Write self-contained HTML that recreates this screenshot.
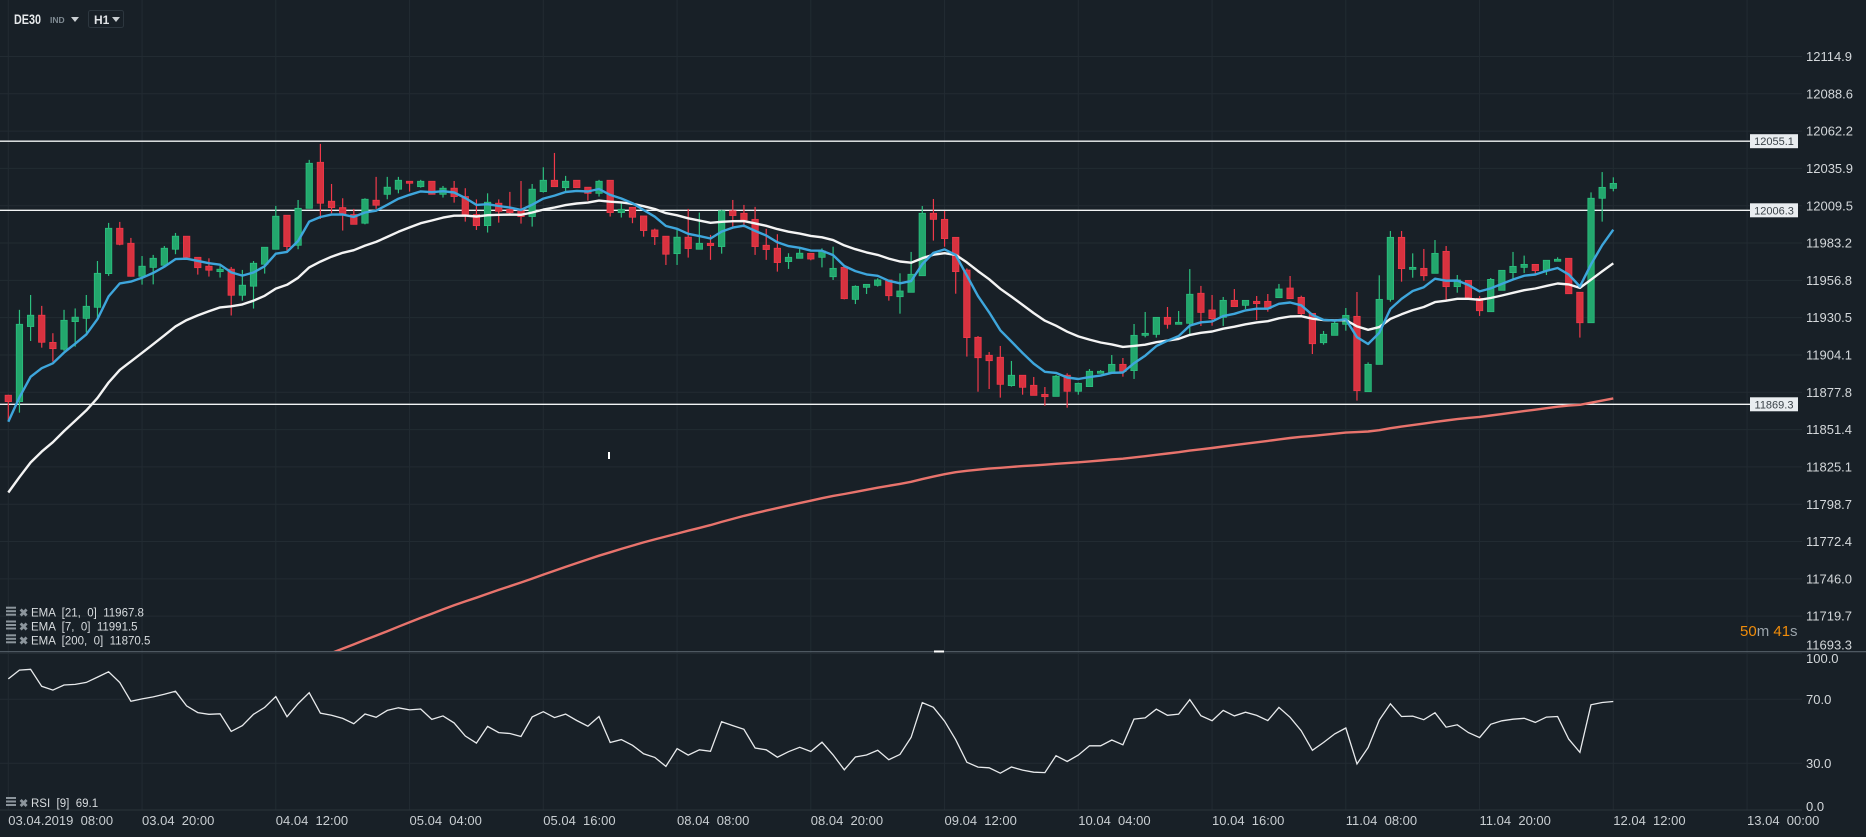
<!DOCTYPE html>
<html><head><meta charset="utf-8"><style>
html,body{margin:0;padding:0;background:#182027;}
svg{display:block;font-family:"Liberation Sans",sans-serif;}
</style></head><body>
<svg id="chart" width="1866" height="837" viewBox="0 0 1866 837" xmlns="http://www.w3.org/2000/svg">
<rect x="0" y="0" width="1866" height="837" fill="#182027"/>
<defs><clipPath id="pclip"><rect x="0" y="0" width="1800" height="651"/></clipPath><clipPath id="rclip"><rect x="0" y="652" width="1800" height="160"/></clipPath></defs>
<g id="grid"></g>
<g id="levels"></g>
<g id="candles" clip-path="url(#pclip)"></g>
<g id="emas" clip-path="url(#pclip)"></g>
<g id="rsi" clip-path="url(#rclip)"></g>
<g id="axes"></g>
<line x1="0" y1="651.7" x2="1866" y2="651.7" stroke="#56616a" stroke-width="1.2"/>
<rect x="608" y="452" width="2" height="7" fill="#ffffff"/>
<rect x="934" y="650.5" width="10" height="2" fill="#ffffff"/>
<g>
<text x="14" y="24" font-size="14" font-weight="bold" fill="#e6e9eb" textLength="27" lengthAdjust="spacingAndGlyphs">DE30</text>
<text x="50" y="23" font-size="8.5" font-weight="bold" fill="#7f8a92">IND</text>
<path d="M71 17 L79 17 L75 22 Z" fill="#c9ced2"/>
<rect x="88.5" y="10.5" width="35" height="17" rx="2" fill="none" stroke="#2c363e"/>
<text x="94" y="24" font-size="12" font-weight="bold" fill="#e0e3e6">H1</text>
<path d="M112 17 L120 17 L116 22 Z" fill="#c9ced2"/>
</g>
<g id="legend"></g>
<g font-size="15">
<text x="1740" y="636"><tspan fill="#f08c0a">50</tspan><tspan fill="#9aa3aa">m </tspan><tspan fill="#f08c0a">41</tspan><tspan fill="#9aa3aa">s</tspan></text>
</g>
</svg>
<script>
const opens=[11875.7,11871.2,11924.2,11932.2,11913,11908.2,11927.7,11930,11937.8,11961.6,11993.6,11983,11959.7,11966,11967.5,11978.8,11988,11973.1,11966.8,11963,11964.7,11946.3,11952.7,11968.2,11978.8,12002.8,11981.6,12007.7,12040.2,12012.7,12008.2,12003.3,11997.2,12013.4,12017.6,12021.2,12026.8,12023,12026.8,12017.6,12021.9,12016,12003.3,11995.5,12011.3,12007,12005.9,12001.9,12019.5,12027.5,12022.3,12027.5,12022.6,12018.3,12027.5,12004.7,12008.4,12002.3,11992.4,11988,11975.7,11987.3,11978.8,11983,11980.7,12005.9,12004.2,11999.9,11981.6,11979.5,11970.1,11972.4,11975.9,11973.1,11959.4,11966,11943.4,11951.9,11953.3,11957.1,11945.3,11948.4,11960.1,12004.2,11999.9,11987.2,11964.1,11916.6,11903.9,11902.5,11882.5,11889.8,11882.7,11876.3,11874.9,11889.8,11878.5,11881.8,11891.2,11891.9,11897.5,11893.1,11918,11918.7,11930.7,11925.8,11926.5,11947.7,11935.9,11930.7,11942.7,11939.2,11942,11942,11944.6,11951.4,11944.8,11933.5,11912.8,11918,11925.8,11931.4,11878.2,11897.5,11943.4,11987.2,11964.6,11965.3,11961.8,11977.3,11952.4,11956.8,11944.1,11934.7,11949.8,11962.3,11966,11968.1,11963.7,11970.3,11972.4,11948.4,11926.9,12014.8,12021.8];
const highs=[11876,11936,11946.5,11938.8,11919.5,11936,11937,11946.5,11970.5,11997.4,11998.1,11986.8,11974,11974.8,11981.1,11990.3,11988,11973.1,11972.4,11967,11966.3,11964.2,11970.5,11980.2,12009.4,12002.8,12013.6,12041.9,12053.2,12024.9,12014.8,12007.3,12014.8,12029.9,12029.9,12029.9,12026.8,12027.8,12026.8,12023.5,12027,12021.9,12014,12018.3,12014,12019.3,12027,12024.9,12036.7,12046.8,12030.6,12027.5,12022.6,12027.8,12027.5,12011.3,12008.4,12002.3,11993.4,11988,11992.9,12007.3,12004.7,11988.9,12006.6,12013.6,12010.1,12008.7,11993.2,11989.4,11976,11979.5,11975.9,11979.4,11980.6,11966,11953.3,11954,11958.3,11957.1,11961.8,11976.9,12009.3,12014.3,12005.8,11987.2,11965.3,11917.5,11906.2,11910.5,11899.9,11889.8,11888.6,11881.5,11890,11891.2,11884.6,11894.2,11893.5,11904.1,11902,11926,11934.5,11930.7,11938,11935.2,11964.8,11952.9,11946.5,11945.1,11950.7,11942.7,11945.8,11947.2,11954.3,11959.9,11946,11933.5,11921.1,11927.9,11937.3,11948.6,11898.9,11960.4,11991.7,11991.7,11975.9,11979,11985.3,11981.1,11960.6,11956.8,11945.8,11958.5,11963.9,11976.9,11974.3,11968.1,11971,11973.1,11972.4,11948.4,12019,12033.3,12029.6];
const lows=[11858,11863.4,11914,11909.3,11899.5,11907,11910,11920,11929,11960,11981.6,11959.5,11953.8,11954,11967,11975.3,11972.4,11960.9,11959.5,11958.8,11932,11942.5,11936.9,11961.6,11978.8,11977.8,11978.8,12007.7,12000.2,12004.2,11992,11996.4,11996.4,12007.3,12014.1,12018.3,12019.5,12022.3,12017.6,12015.3,12011.7,11998.3,11992.4,11990.6,11997.6,12003,11996.9,11994.8,12018.8,12023,12019.5,12022.3,12013.2,12016,12001.9,12001.2,11997.2,11987.7,11981.8,11967.7,11967.7,11972.9,11978.8,11971.3,11975.7,11994.3,11994.3,11974.8,11971.3,11963,11964.9,11972.4,11971,11966,11957.1,11943.4,11940.1,11947.2,11952.4,11942.5,11933.3,11948.4,11960.1,11984.9,11980.6,11947.4,11903,11878.2,11880.1,11874,11881.8,11876.1,11875.6,11868.3,11874.9,11866.9,11876.1,11881.8,11891.2,11891.9,11888.8,11887.2,11916.6,11916.4,11922.7,11925.8,11919,11924.6,11924.8,11924.6,11938.3,11936.6,11928.8,11934.7,11944.6,11943.9,11931.7,11904.8,11911.4,11918,11921.3,11871.9,11878.2,11897.5,11941.8,11955.9,11958.7,11956.6,11961.8,11943,11948.1,11944.1,11931.7,11934.7,11949.8,11958,11962,11961.1,11960.6,11970.3,11947.4,11916.4,11926.9,11998.3,12019.7];
const closes=[11871.2,11925.8,11932.2,11913.1,11908.6,11928.6,11930.8,11938.5,11961.8,11993.6,11982.3,11959.7,11966.8,11972.4,11979.5,11988,11973.1,11965.8,11964,11964.7,11946.3,11953.4,11968.9,11980.2,12002.1,11980.7,12007.7,12039.5,12011.3,12008.2,12003.7,11996.4,12014.1,12009.9,12022.6,12027.5,12025.4,12026.8,12017.6,12021.9,12016,12003.3,11995.5,12012,12005.6,12004.7,12001.9,12021.2,12027.5,12023,12026.8,12022.3,12018.3,12026.8,12004.7,12007,12001.4,11992,11987.7,11975.3,11987.3,11979.3,11983,11981.4,12005.9,12002.6,11999.5,11980.7,11978.6,11969.4,11973.1,11976,11971.9,11977.6,11965.3,11943.9,11952.6,11954,11957.1,11946,11949.3,11961.1,12004.2,11999.9,11986.3,11963,11916.4,11902.2,11900.1,11883.4,11889.8,11881.3,11875.6,11874.7,11889.1,11878.5,11884.1,11892.6,11892.6,11897.5,11892.4,11918,11919.4,11930.7,11925.8,11927.2,11947,11934.2,11929.8,11942.7,11938.3,11942.7,11940.4,11936.8,11950.7,11943.9,11933.3,11912.1,11918.7,11926.5,11932.1,11878.9,11897.5,11943.4,11987.2,11965.1,11966,11960.1,11975.9,11952.4,11957.1,11944.1,11935.4,11957.5,11963.9,11966.7,11968.1,11963.7,11971,11971.7,11947.4,11926.9,12014.8,12022.5,12025.3];
const priceTicks=[12114.9,12088.6,12062.2,12035.9,12009.5,11983.2,11956.8,11930.5,11904.1,11877.8,11851.4,11825.1,11798.7,11772.4,11746.0,11719.7,11693.3];
const levelValues=[12055.1,12006.3,11869.3];
const rsiTicks=[100,70,30,0];
const timeLabels=["03.04.2019  08:00","03.04  20:00","04.04  12:00","05.04  04:00","05.04  16:00","08.04  08:00","08.04  20:00","09.04  12:00","10.04  04:00","10.04  16:00","11.04  08:00","11.04  20:00","12.04  12:00","13.04  00:00"];
const emaPeriods=[21,7,200];
const emaSeeds=[11807,11857,11601];
const emaLegendValues=["11967.8","11991.5","11870.5"];
const rsiPeriod=9;
const rsiSeedGain=12;
const rsiSeedLoss=2.5;
const rsiLegendValue="69.1";

const NS="http://www.w3.org/2000/svg";
function mk(tag,attrs,parent){const e=document.createElementNS(NS,tag);for(const k in attrs)e.setAttribute(k,attrs[k]);parent.appendChild(e);return e;}
const yP=p=>210.3+(12006.3-p)*1.416;
const yR=r=>811.3-r*1.6;
const xI=i=>8.3+i*11.146;
const xL=k=>8.3+k*133.75;
const grid=document.getElementById('grid'),axes=document.getElementById('axes');
timeLabels.forEach((t,k)=>{
  const l=mk('line',{x1:xL(k),y1:0,x2:xL(k),y2:810,stroke:'#222b32','stroke-width':1},grid);
  
  
  const tx=mk('text',{x:xL(k),y:825,'font-size':13,fill:'#c9ced2'},axes);
  tx.setAttribute('style','white-space:pre');
  tx.textContent=t;
  
  
});
priceTicks.forEach(p=>{
  const y=yP(p);
  const l=mk('line',{x1:0,y1:y,x2:1802,y2:y,stroke:'#222b32','stroke-width':1},grid);
  
  
  const tx=mk('text',{x:1806,y:Math.min(y,645)+4.5,'font-size':13,fill:'#d3d7da'},axes);
  tx.textContent=p.toFixed(1);
  
  
});
rsiTicks.forEach(r=>{
  const y=yR(r);
  if(r>0&&r<100){const l=mk('line',{x1:0,y1:y,x2:1802,y2:y,stroke:'#222b32','stroke-width':1},grid);
  
  }
  const ty=r===100?663:(r===0?811:y+4.5);
  const tx=mk('text',{x:1806,y:ty,'font-size':13,fill:'#d3d7da'},axes);
  tx.textContent=r.toFixed(1);
  
  
});
const bl=mk('line',{x1:0,y1:810,x2:1802,y2:810,stroke:'#2a333a','stroke-width':1},grid);


const lv=document.getElementById('levels');
levelValues.forEach(v=>{
  const y=yP(v);
  const l=mk('line',{x1:0,y1:y,x2:1750,y2:y,stroke:'#f2f4f5','stroke-width':1.4},lv);
  
  
  const r=mk('rect',{x:1750,y:y-7,width:48,height:14,fill:'#e9edf0'},lv);
  
  
  const t=mk('text',{x:1774,y:y+4,'font-size':11,fill:'#3a4248','text-anchor':'middle'},lv);
  t.textContent=v.toFixed(1);
  
  
});
const cg=document.getElementById('candles');
closes.forEach((c,i)=>{
  const o=opens[i],up=c>=o,col=up?'#23a76d':'#d8323f',st=up?'#2cc07f':'#f0394a',x=xI(i);
  const w=mk('line',{x1:x,y1:yP(highs[i]),x2:x,y2:yP(lows[i]),stroke:st,'stroke-width':1.2},cg);
  
  
  const top=yP(Math.max(o,c)),h=Math.max(1.5,yP(Math.min(o,c))-top);
  const b=mk('rect',{x:x-3.2,y:top,width:6.4,height:h,fill:col,stroke:st,'stroke-width':0.8},cg);
  
  
});
const eg=document.getElementById('emas');
const emaColors=['#f4f4f4','#3ea6dc','#e8736c'];
const emaNames=['ema-21-line','ema-7-line','ema-200-line'];
[2,0,1].forEach(k=>{
  const a=2/(emaPeriods[k]+1);let e=emaSeeds[k];const pts=[];
  closes.forEach((c,i)=>{if(i>0)e=e+a*(c-e);pts.push(xI(i).toFixed(1)+','+yP(e).toFixed(1));});
  const pl=mk('polyline',{points:pts.join(' '),fill:'none',stroke:emaColors[k],'stroke-width':2.4,'stroke-linejoin':'round'},eg);
  
  
});
const rg=document.getElementById('rsi');
let ag=rsiSeedGain,al=rsiSeedLoss;const rp=[];
closes.forEach((c,i)=>{
  if(i>0){const d=c-closes[i-1];ag=(ag*(rsiPeriod-1)+Math.max(d,0))/rsiPeriod;al=(al*(rsiPeriod-1)+Math.max(-d,0))/rsiPeriod;}
  const r=al===0?100:100-100/(1+ag/al);
  rp.push(xI(i).toFixed(1)+','+yR(r).toFixed(1));
});
const rl=mk('polyline',{points:rp.join(' '),fill:'none',stroke:'#e8eaec','stroke-width':1.3},rg);


const lg=document.getElementById('legend');
function legendRow(y,label){
  const ic=mk('g',{},lg);
  
  
  mk('rect',{x:6,y:y-6,width:10,height:2,fill:'#8c959c'},ic);
  mk('rect',{x:6,y:y-2.5,width:10,height:2,fill:'#8c959c'},ic);
  mk('rect',{x:6,y:y+1,width:10,height:2,fill:'#8c959c'},ic);
  const x=mk('text',{x:19,y:y+4,'font-size':11,fill:'#8c959c','font-weight':'bold'},lg);
  x.textContent='✖';
  
  
  const t=mk('text',{x:31,y:y+4,'font-size':11.5,fill:'#d8dcdf'},lg);
  t.setAttribute('style','white-space:pre');
  t.textContent=label;
  
  
}
emaPeriods.forEach((p,k)=>legendRow(612.7+k*13.8,'EMA  ['+p+',  0]  '+emaLegendValues[k]));
legendRow(803,'RSI  ['+rsiPeriod+']  '+rsiLegendValue);
</script>
</body></html>
